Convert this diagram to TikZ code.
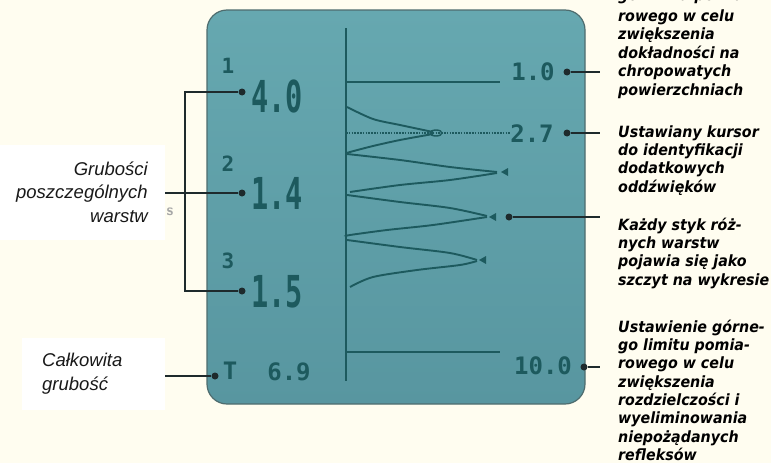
\documentclass[tikz,border=0pt]{standalone}
\usepackage{fontspec}
\setmainfont{DejaVu Sans}
\newfontfamily\rfont[FakeStretch=0.92]{DejaVu Sans}
\newfontfamily\lfont{Liberation Sans}
\newfontfamily\lcd{DejaVu Sans Mono}
\newfontfamily\lcdbig[FakeStretch=0.65]{DejaVu Sans Mono}
\definecolor{bgc}{HTML}{FFFDF0}
\definecolor{scrtop}{HTML}{66A8B0}
\definecolor{scrbot}{HTML}{5896A0}
\definecolor{scrb}{HTML}{4E6C6E}
\definecolor{ink}{HTML}{1D5A5E}
\definecolor{leadc}{HTML}{1E2A2C}
\begin{document}
\begin{tikzpicture}[x=1pt,y=-1pt,
  lead/.style={draw=leadc, line width=2.2pt},
  dot/.style={circle, fill=leadc, inner sep=0pt, minimum size=7pt},
  rtext/.style={font=\rfont\bfseries\itshape\fontsize{15.5}{18}\selectfont, anchor=base west, inner sep=0pt, text=black},
  ltext/.style={font=\lfont\itshape\fontsize{18.5}{22}\selectfont, inner sep=0pt, text=black!90},
  bigval/.style={font=\lcdbig\bfseries\fontsize{44}{44}\selectfont, text=ink, inner sep=0pt},
  smallval/.style={font=\lcd\bfseries\fontsize{24}{24}\selectfont, text=ink, inner sep=0pt},
  idx/.style={font=\lcd\bfseries\fontsize{21}{21}\selectfont, text=ink, inner sep=0pt},
  trace/.style={draw=ink, line width=1.9pt},
  whitebox/.style={fill=white, inner sep=0pt, anchor=north west}]
\clip (0,0) rectangle (771,463);
\fill[bgc] (0,0) rectangle (771,463);
% screen
\shade[top color=scrtop, bottom color=scrbot, rounded corners=20pt] (207,10) rectangle (585,404);
\draw[scrb, line width=1.2pt, rounded corners=20pt] (207,10) rectangle (585,404);
% axes
\draw[ink, line width=2.2pt] (346,28) -- (346,381);
\draw[ink, line width=2.2pt] (346,82) -- (500,82);
\draw[ink, line width=2.2pt] (346,352) -- (500,352);
% cursor
\draw[ink, line width=1.8pt, dash pattern=on 1.6pt off 1.2pt] (346,133) -- (510,133);
\draw[ink, line width=1.4pt] (436,133) ellipse (6pt and 3pt);
% peaks
\draw[trace] plot[smooth] coordinates {(347,107) (373,119) (400,125) (433,132)};
\draw[trace] plot[smooth] coordinates {(433,134) (400,140) (373,146) (350,152) (347,153)};
\draw[trace] plot[smooth] coordinates {(347,154) (400,160) (450,167) (497,172)};
\draw[trace] plot[smooth] coordinates {(497,173) (450,180) (400,185) (350,192)};
\draw[trace] plot[smooth] coordinates {(347,195) (400,202) (450,208) (487,216)};
\draw[trace] plot[smooth] coordinates {(487,217) (433,225) (387,230) (350,235) (347,236)};
\draw[trace] plot[smooth] coordinates {(347,240) (400,247) (450,253) (477,260)};
\draw[trace] plot[smooth] coordinates {(477,261) (460,265) (417,270) (373,277) (350,287)};
\fill[ink] (501,172) -- (508,168) -- (508,176) -- cycle;
\fill[ink] (489,217) -- (496,213) -- (496,221) -- cycle;
\fill[ink] (479,260) -- (486,256) -- (486,264) -- cycle;
% values on screen
\node[idx] (i1) at (228,66) {1};
\node[idx] (i2) at (228,164) {2};
\node[idx] (i3) at (228,261) {3};
\node[bigval] (v1) at (277,96) {4.0};
\node[bigval] (v2) at (277,193) {1.4};
\node[bigval] (v3) at (277,292) {1.5};
\node[smallval] (tT) at (230,371) {T};
\node[smallval] (t69) at (289,372) {6.9};
\node[smallval] (r1) at (533,72) {1.0};
\node[smallval] (r2) at (532,134) {2.7};
\node[smallval] (r3) at (543,366) {10.0};
% dots
\node[dot] (d1) at (242,92) {};
\node[dot] (d2) at (242,193) {};
\node[dot] (d3) at (242,291) {};
\node[dot] (dT) at (215,376) {};
\node[dot] (dr1) at (567,72) {};
\node[dot] (dr2) at (567,133) {};
\node[dot] (dr3) at (509,217) {};
\node[dot] (dr4) at (584,367) {};
% left boxes
\node[whitebox, minimum width=165pt, minimum height=95pt] (lbox) at (0,145) {};
\node[ltext, anchor=base east] (l1) at (148,175) {Grubości};
\node[ltext, anchor=base east] (l2) at (148,198) {poszczególnych};
\node[ltext, anchor=base east] (l3) at (148,222) {warstw};
\node[font=\sffamily\bfseries\fontsize{16}{16}\selectfont, text=gray!70, inner sep=0pt] (gs) at (170,212) {s};
\node[whitebox, minimum width=143pt, minimum height=72pt] (cbox) at (22,338) {};
\node[ltext, anchor=base west] (c1) at (42,366) {Całkowita};
\node[ltext, anchor=base west] (c2) at (42,390) {grubość};
% left connectors
\draw[lead] (d1) -- (185,92) -- (185,291) -- (d3);
\draw[lead] (lbox.east |- d2) -- (d2);
\draw[lead] (cbox.east |- dT) -- (dT);
% right connectors
\coordinate (e1) at (600,72);
\coordinate (e2) at (600,133);
\coordinate (e3) at (600,217);
\coordinate (e4) at (600,367);
\draw[lead] (dr1) -- (e1);
\draw[lead] (dr2) -- (e2);
\draw[lead] (dr3) -- (e3);
\draw[lead] (dr4) -- (e4);
% right texts
\node[rtext] (a0) at (618,0.5) {go limitu pomia-};
\foreach \t [count=\i] in {rowego w celu, zwiększenia, dokładności na, chropowatych, powierzchniach}
  \node[rtext] (a\i) at (618, 21.5+18.4*\i-18.4) {\t};
\foreach \t [count=\i] in {Ustawiany kursor, do identyfikacji, dodatkowych, oddźwięków}
  \node[rtext] (b\i) at (618, 137+18.4*\i-18.4) {\t};
\foreach \t [count=\i] in {Każdy styk róż-, nych warstw, pojawia się jako, szczyt na wykresie}
  \node[rtext] (c\i) at (618, 230+18.4*\i-18.4) {\t};
\foreach \t [count=\i] in {Ustawienie górne-, go limitu pomia-, rowego w celu, zwiększenia, rozdzielczości i, wyeliminowania, niepożądanych, refleksów}
  \node[rtext] (f\i) at (618, 332+18.35*\i-18.35) {\t};
\end{tikzpicture}
\end{document}
